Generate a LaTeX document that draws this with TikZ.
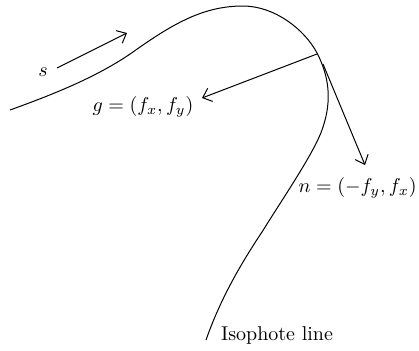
\documentclass[tikz,border=0pt]{standalone}
\usetikzlibrary{arrows.meta}
\begin{document}
\begin{tikzpicture}[x=0.5pt,y=-0.5pt,
  line/.style={line width=0.5pt},
  arr/.style={line width=0.5pt,-{Straight Barb[length=4pt,width=7pt,line width=0.5pt]}},
  lbl/.style={inner sep=0pt,font=\fontsize{10}{12}\selectfont}]
\useasboundingbox (0,0) rectangle (419,350);
% isophote curve
\draw[line] (10,110) .. controls (60,92) and (100,75) .. (133,52)
  .. controls (175,22) and (205,6) .. (243,6)
  .. controls (275,6) and (305,30) .. (317,53)
  .. controls (329,76) and (332,100) .. (323,127)
  .. controls (316,150) and (285,195) .. (262,232)
  .. controls (240,265) and (220,300) .. (206,340);
% coordinates
\coordinate (s0) at (57,68);
\coordinate (s1) at (127,33);
\coordinate (g0) at (317,54);
\coordinate (g1) at (202,98);
\coordinate (n0) at (323,64);
\coordinate (n1) at (365,165);
\draw[arr] (s0) -- (s1);
\draw[arr] (g0) -- (g1);
\draw[arr] (n0) -- (n1);
\node[lbl] (slab) at (43,72) {$s$};
\node[lbl] (glab) at (143,107) {$g=(f_x,f_y)$};
\node[lbl,anchor=east] (nlab) at (417,188) {$n=(-f_y,f_x)$};
\node[lbl] (ilab) at (277,335) {Isophote line};
\end{tikzpicture}
\end{document}
